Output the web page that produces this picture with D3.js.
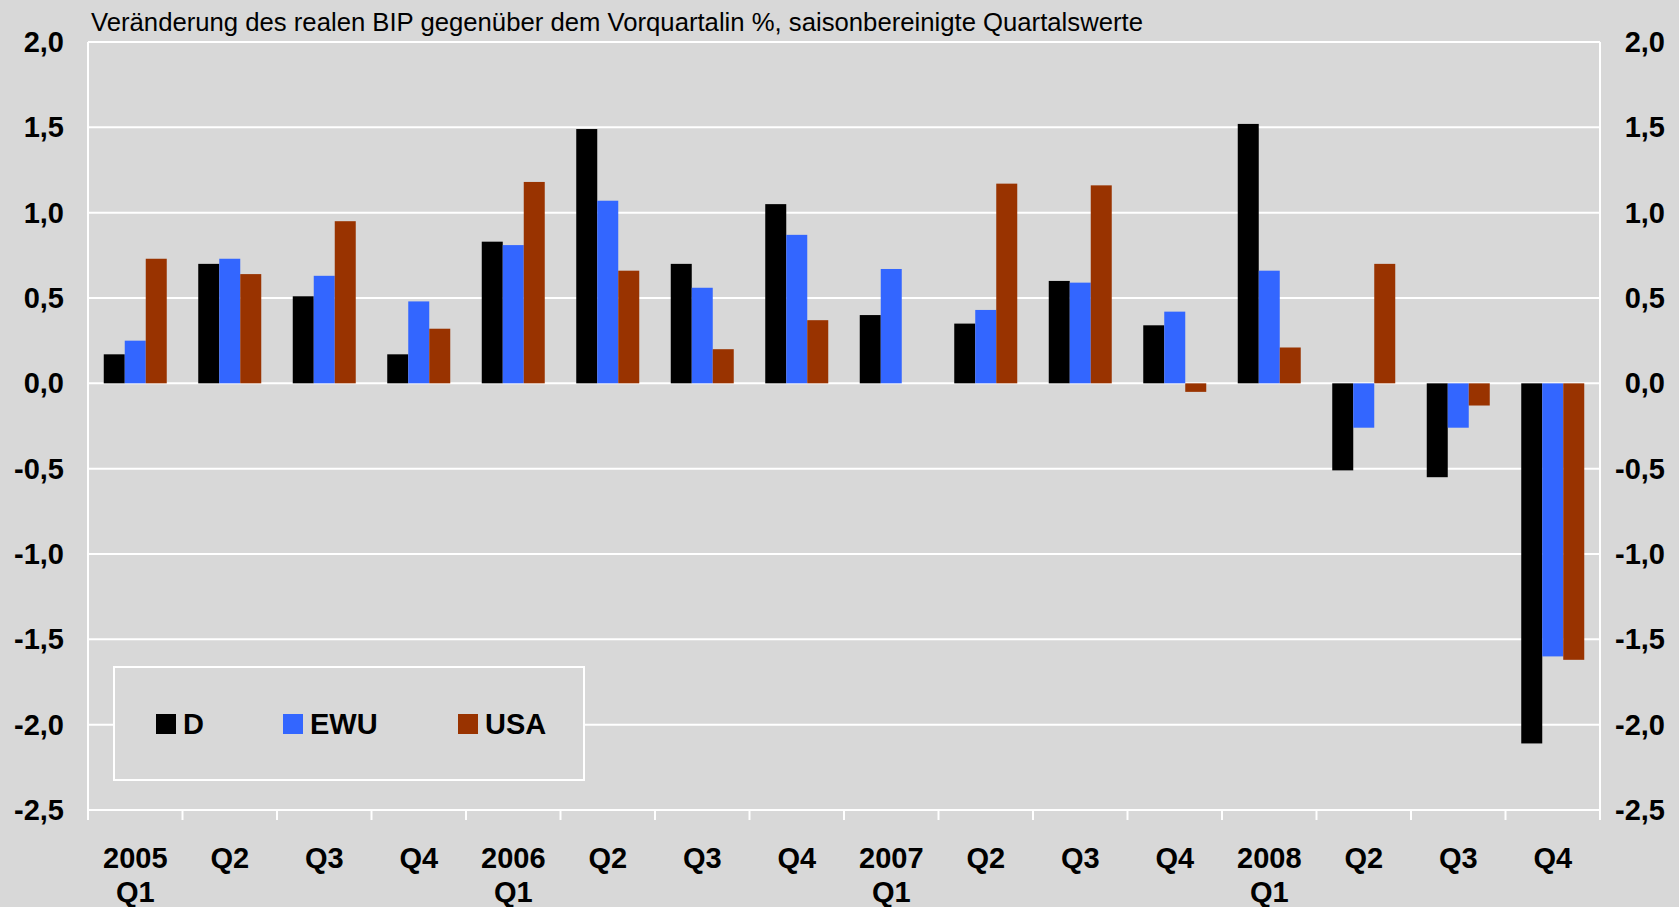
<!DOCTYPE html>
<html>
<head>
<meta charset="utf-8">
<script src="https://cdn.jsdelivr.net/npm/d3@7"></script>
<style>
  html, body { margin: 0; padding: 0; background: #d8d8d8; }
  svg { display: block; font-family: "Liberation Sans", Arial, sans-serif; }
</style>
</head>
<body>
<div id="wrapper"></div>
<script>
// data
const quarterLabels = ["2005", "Q2", "Q3", "Q4", "2006", "Q2", "Q3", "Q4", "2007", "Q2", "Q3", "Q4", "2008", "Q2", "Q3", "Q4"]
const yearLabels = ["Q1", "", "", "", "Q1", "", "", "", "Q1", "", "", "", "Q1", "", "", ""]
const seriesNames = ["D", "EWU", "USA"]
const valuesD = [0.17, 0.70, 0.51, 0.17, 0.83, 1.49, 0.70, 1.05, 0.40, 0.35, 0.60, 0.34, 1.52, -0.51, -0.55, -2.11]
const valuesEWU = [0.25, 0.73, 0.63, 0.48, 0.81, 1.07, 0.56, 0.87, 0.67, 0.43, 0.59, 0.42, 0.66, -0.26, -0.26, -1.60]
const valuesUSA = [0.73, 0.64, 0.95, 0.32, 1.18, 0.66, 0.20, 0.37, 0.00, 1.17, 1.16, -0.05, 0.21, 0.70, -0.13, -1.62]
const yTicks = [-2.5, -2.0, -1.5, -1.0, -0.5, 0.0, 0.5, 1.0, 1.5, 2.0]
const titleText = "Veränderung des realen BIP gegenüber dem Vorquartalin %, saisonbereinigte Quartalswerte"

const seriesValues = [valuesD, valuesEWU, valuesUSA]
const colors = ["#000000", "#3366ff", "#993300"]

// dimensions
const dimensions = {
  width: 1679,
  height: 907,
  margin: { top: 42, right: 79, bottom: 97, left: 88 },
}
dimensions.boundedWidth = dimensions.width - dimensions.margin.left - dimensions.margin.right
dimensions.boundedHeight = dimensions.height - dimensions.margin.top - dimensions.margin.bottom

const rows = quarterLabels.map((q, i) => ({
  idx: i,
  q: q,
  year: yearLabels[i],
  values: seriesNames.map((s, j) => ({ series: s, value: seriesValues[j][i] })),
}))

const svg = d3.select("#wrapper").append("svg")
  .attr("width", dimensions.width)
  .attr("height", dimensions.height)

svg.append("rect")
  .attr("width", dimensions.width)
  .attr("height", dimensions.height)
  .attr("fill", "#d8d8d8")

const bounds = svg.append("g")
  .attr("transform", `translate(${dimensions.margin.left},${dimensions.margin.top})`)

// scales
const xScale = d3.scaleBand()
  .domain(d3.range(quarterLabels.length))
  .range([0, dimensions.boundedWidth])
  .padding(0)

const bw = xScale.bandwidth()
const xInner = d3.scaleBand()
  .domain(seriesNames)
  .range([bw / 6, bw * 5 / 6])
  .padding(0)

const yScale = d3.scaleLinear()
  .domain([-2.5, 2.0])
  .range([dimensions.boundedHeight, 0])

// german decimal comma, plain hyphen as minus
const locale = d3.formatLocale({ decimal: ",", thousands: ".", grouping: [3], currency: ["", "€"], minus: "-" })
const fmt = locale.format(".1f")

// gridlines
bounds.append("g")
  .selectAll("line")
  .data(yTicks)
  .join("line")
    .attr("x1", 0)
    .attr("x2", dimensions.boundedWidth)
    .attr("y1", d => yScale(d))
    .attr("y2", d => yScale(d))
    .attr("stroke", "#ffffff")
    .attr("stroke-width", 2)

// left / right frame lines
bounds.append("g")
  .selectAll("line")
  .data([0, dimensions.boundedWidth])
  .join("line")
    .attr("x1", d => d)
    .attr("x2", d => d)
    .attr("y1", 0)
    .attr("y2", dimensions.boundedHeight + 10)
    .attr("stroke", "#ffffff")
    .attr("stroke-width", 2)

// category ticks
bounds.append("g")
  .selectAll("line")
  .data(d3.range(1, quarterLabels.length))
  .join("line")
    .attr("x1", d => xScale(d))
    .attr("x2", d => xScale(d))
    .attr("y1", dimensions.boundedHeight)
    .attr("y2", dimensions.boundedHeight + 10)
    .attr("stroke", "#ffffff")
    .attr("stroke-width", 2)

// bars
const groups = bounds.append("g")
  .selectAll("g")
  .data(rows)
  .join("g")
    .attr("transform", d => `translate(${xScale(d.idx)},0)`)

groups.selectAll("rect")
  .data(d => d.values)
  .join("rect")
    .attr("x", d => xInner(d.series))
    .attr("width", xInner.bandwidth())
    .attr("y", d => yScale(Math.max(0, d.value)))
    .attr("height", d => Math.abs(yScale(d.value) - yScale(0)))
    .attr("fill", (d, i) => colors[i])

// y labels, both sides
const labelStyle = sel => sel
  .attr("font-size", 29)
  .attr("font-weight", "bold")
  .attr("fill", "#000")
  .attr("text-anchor", "end")
  .attr("dy", "0.35em")

bounds.append("g")
  .selectAll("text")
  .data(yTicks)
  .join("text")
    .attr("x", -24)
    .attr("y", d => yScale(d))
    .text(d => fmt(d))
    .call(labelStyle)

bounds.append("g")
  .selectAll("text")
  .data(yTicks)
  .join("text")
    .attr("x", dimensions.boundedWidth + 65)
    .attr("y", d => yScale(d))
    .text(d => fmt(d))
    .call(labelStyle)

// x labels
const xLabels = bounds.append("g")
  .selectAll("g")
  .data(rows)
  .join("g")
    .attr("transform", d => `translate(${xScale(d.idx) + bw / 2},${dimensions.boundedHeight})`)

xLabels.append("text")
  .attr("y", 58)
  .attr("text-anchor", "middle")
  .attr("font-size", 29)
  .attr("font-weight", "bold")
  .text(d => d.q)

xLabels.append("text")
  .attr("y", 92)
  .attr("text-anchor", "middle")
  .attr("font-size", 29)
  .attr("font-weight", "bold")
  .text(d => d.year)

// title
svg.append("text")
  .attr("x", 91)
  .attr("y", 31)
  .attr("font-size", 25.7)
  .attr("fill", "#000")
  .text(titleText)

// legend
const legend = svg.append("g")
  .attr("transform", "translate(114,667)")

legend.append("rect")
  .attr("width", 470)
  .attr("height", 113)
  .attr("fill", "#d8d8d8")
  .attr("stroke", "#ffffff")
  .attr("stroke-width", 2)

const legendX = [42, 169, 344]
const entries = legend.selectAll(".entry")
  .data(seriesNames)
  .join("g")
    .attr("class", "entry")
    .attr("transform", (d, i) => `translate(${legendX[i]},47)`)

entries.append("rect")
  .attr("width", 20)
  .attr("height", 20)
  .attr("fill", (d, i) => colors[i])

entries.append("text")
  .attr("x", 27)
  .attr("y", 10)
  .attr("dy", "0.35em")
  .attr("font-size", 29)
  .attr("font-weight", "bold")
  .text(d => d)
</script>
</body>
</html>
